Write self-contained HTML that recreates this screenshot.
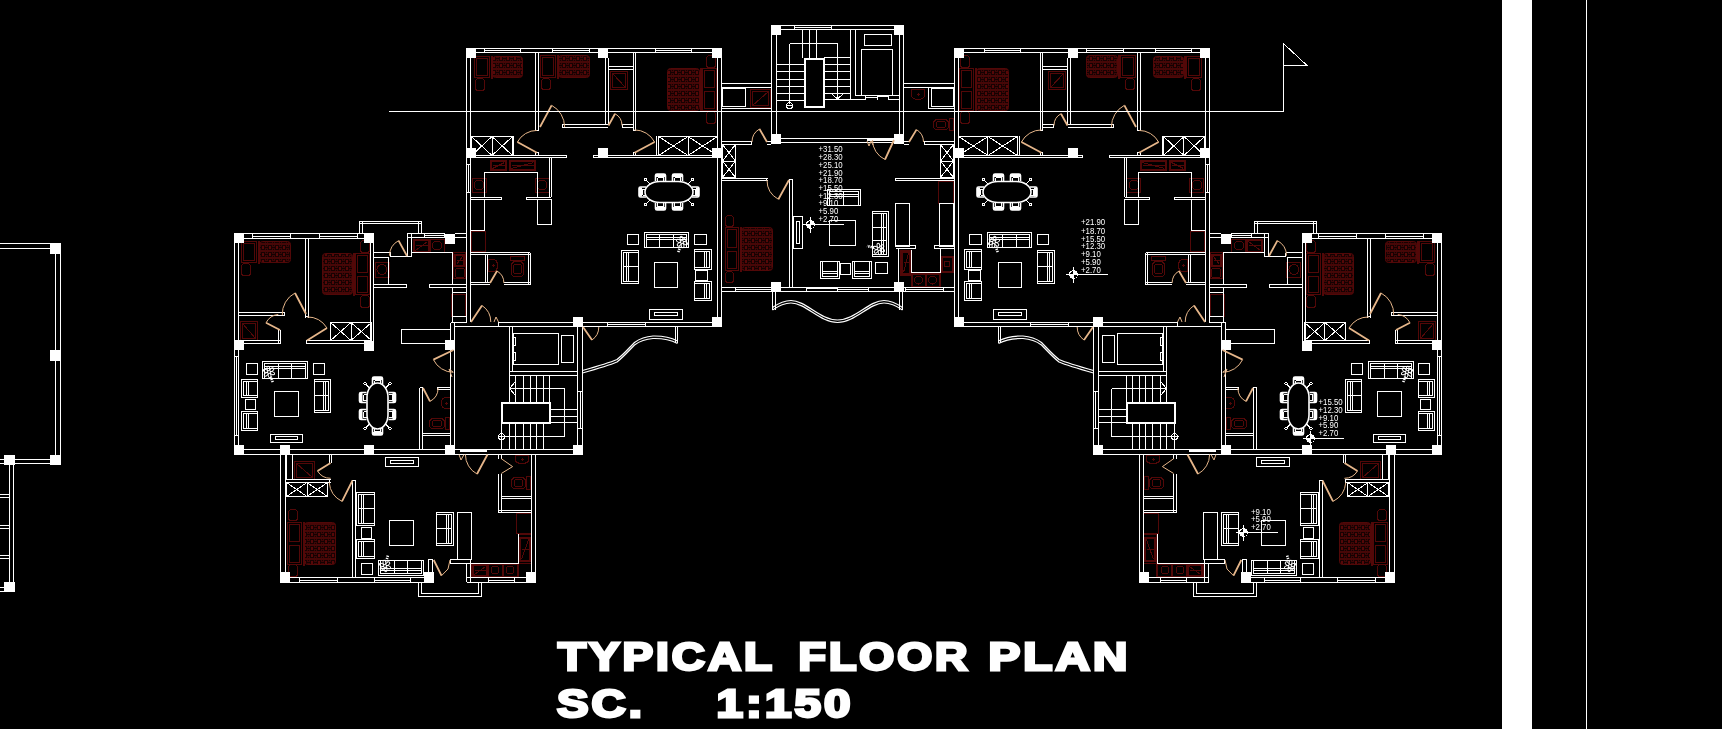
<!DOCTYPE html>
<html lang="en"><head><meta charset="utf-8"><title>Typical Floor Plan</title><style>
html,body{margin:0;padding:0;background:#000;}
body{width:1722px;height:729px;overflow:hidden;}
svg{display:block;will-change:transform;}
.w{fill:none;stroke:#fff;stroke-width:1;shape-rendering:crispEdges;}
.w2{fill:none;stroke:#fff;stroke-width:2;shape-rendering:crispEdges;}
.wc{fill:none;stroke:#fff;stroke-width:1.2;}
.wt{fill:none;stroke:#fff;stroke-width:1.6;}
.wp{fill:none;stroke:#fff;stroke-width:1;}
.ws{fill:none;stroke:#fff;stroke-width:2.6;stroke-dasharray:1.3 1;}
.r{fill:none;stroke:#520808;stroke-width:1;shape-rendering:crispEdges;}
.d{fill:none;stroke:#e6b68a;stroke-width:1;}
.dl{fill:none;stroke:#e6b68a;stroke-width:1.8;}
.lv{font-family:"Liberation Sans",Arial,sans-serif;fill:#fff;}
.tt{font-family:"Liberation Sans",Arial,sans-serif;font-weight:bold;font-size:38.5px;letter-spacing:2.5px;fill:#fff;stroke:#fff;stroke-width:2.8;stroke-linejoin:miter;}
</style></head>
<body>
<svg width="1722" height="729" viewBox="0 0 1722 729">
<defs><pattern id="bp" width="7" height="7" patternUnits="userSpaceOnUse"><rect width="7" height="7" fill="#3e0606"/><rect y="5" width="7" height="2" fill="#470707"/><rect x="2.5" y="0.5" width="3" height="4" fill="#560808" stroke="#180202"/><path d="M0 2.5h2M6 2.5h1M0 0.5h1M0 4.5h1" stroke="#140202" stroke-width="1" fill="none"/></pattern></defs>
<rect width="1722" height="729" fill="#000"/>
<g id="wingL"><rect x="492.5" y="56.5" width="30" height="21" rx="3" fill="url(#bp)" stroke="#520808"/>
<rect x="558.5" y="55.5" width="31" height="22" rx="3" fill="url(#bp)" stroke="#520808"/>
<rect x="667.5" y="68.5" width="32" height="42" rx="3" fill="url(#bp)" stroke="#520808"/>
<rect x="259.5" y="241.5" width="31" height="21" rx="3" fill="url(#bp)" stroke="#520808"/>
<rect x="322.5" y="253.5" width="30" height="41" rx="3" fill="url(#bp)" stroke="#520808"/>
<path class="r" d="M610.5 71.5H627.5V89.5H610.5ZM612.5 73.5H625.5V87.5H612.5ZM612.5 73.5L625.5 87.5M491 55.5L491 78.5M492 55.5L492 78.5M474.5 56.5H489.5V77.5H474.5ZM476.5 58.5H487.5V75.5H476.5ZM478.5 78.5H481.5Q484.5 78.5 484.5 81.5V87.5Q484.5 90.5 481.5 90.5H478.5Q475.5 90.5 475.5 87.5V81.5Q475.5 78.5 478.5 78.5ZM557 54.5L557 78.5M558 54.5L558 78.5M540.5 55.5H555.5V77.5H540.5ZM542.5 57.5H553.5V75.5H542.5ZM544.5 78.5H547.5Q550.5 78.5 550.5 81.5V86.5Q550.5 89.5 547.5 89.5H544.5Q541.5 89.5 541.5 86.5V81.5Q541.5 78.5 544.5 78.5ZM701 67.5L701 111.5M700 67.5L700 111.5M702.5 68.5H716.5V110.5H702.5ZM704.5 70.5H714.5V87.5H704.5ZM704.5 91.5H714.5V108.5H704.5ZM709.5 55.5H712.5Q715.5 55.5 715.5 58.5V64.5Q715.5 67.5 712.5 67.5H709.5Q706.5 67.5 706.5 64.5V58.5Q706.5 55.5 709.5 55.5ZM709.5 111.5H712.5Q715.5 111.5 715.5 114.5V120.5Q715.5 123.5 712.5 123.5H709.5Q706.5 123.5 706.5 120.5V114.5Q706.5 111.5 709.5 111.5ZM490.5 160.5H506.5V170.5H490.5ZM491.5 161.5H505.5V169.5H491.5ZM492.5 168.5L504.5 162.5M492.5 165L504.5 165M509.5 160.5H535.5V170.5H509.5ZM510.5 161.5H534.5V169.5H510.5ZM511.5 168.5L533.5 162.5M511.5 165L533.5 165M472.5 178.5H486.5V192.5H472.5ZM474 185a5 5 0 1 0 10 0a5 5 0 1 0 -10 0M535.5 178.5H549.5V192.5H535.5ZM537 185a5 5 0 1 0 10 0a5 5 0 1 0 -10 0M471.5 231.5H485.5V251.5H471.5ZM485.5 236L485.5 246M488.5 259.5V271.5H493Q497.5 271.5 497.5 265.5Q497.5 259.5 493 259.5ZM491.5 265.5h3M493 264v3M510.5 256.5H524.5V260.5H510.5ZM515.5 261.5H519.5Q523.5 261.5 523.5 265.5V272.5Q523.5 276.5 519.5 276.5H515.5Q511.5 276.5 511.5 272.5V265.5Q511.5 261.5 515.5 261.5ZM515.5 264.5H519.5Q521.5 264.5 521.5 266.5V271.5Q521.5 273.5 519.5 273.5H515.5Q513.5 273.5 513.5 271.5V266.5Q513.5 264.5 515.5 264.5ZM240.5 321.5H257.5V340.5H240.5ZM242.5 323.5H255.5V338.5H242.5ZM242.5 323.5L255.5 338.5M258 240.5L258 263.5M259 240.5L259 263.5M241.5 241.5H256.5V262.5H241.5ZM243.5 243.5H254.5V260.5H243.5ZM244.5 263.5H247.5Q250.5 263.5 250.5 266.5V272.5Q250.5 275.5 247.5 275.5H244.5Q241.5 275.5 241.5 272.5V266.5Q241.5 263.5 244.5 263.5ZM354 252.5L354 295.5M353 252.5L353 295.5M355.5 253.5H369.5V294.5H355.5ZM357.5 255.5H367.5V272.5H357.5ZM357.5 276.5H367.5V292.5H357.5ZM363.5 240.5H366.5Q369.5 240.5 369.5 243.5V249.5Q369.5 252.5 366.5 252.5H363.5Q360.5 252.5 360.5 249.5V243.5Q360.5 240.5 363.5 240.5ZM363.5 295.5H366.5Q369.5 295.5 369.5 298.5V304.5Q369.5 307.5 366.5 307.5H363.5Q360.5 307.5 360.5 304.5V298.5Q360.5 295.5 363.5 295.5ZM375.5 262.5H389.5V277.5H375.5ZM377 269.5a5 5 0 1 0 10 0a5 5 0 1 0 -10 0M413.5 239.5H429.5V252.5H413.5ZM414.5 240.5H428.5V251.5H414.5ZM415.5 250.5L427.5 241.5M415.5 245.5L427.5 245.5M430.5 239.5H444.5V252.5H430.5ZM432.5 245.5a4.5 4.5 0 1 0 9 0a4.5 4.5 0 1 0 -9 0M453.5 252.5H465.5V278.5H453.5ZM454.5 254.5H464.5V266.5H454.5ZM455.5 255.5H463.5V265.5H455.5ZM456.5 264.5L462.5 256.5M456.5 260L462.5 260M457.5 268.5H462.5Q464.5 268.5 464.5 270.5V275.5Q464.5 277.5 462.5 277.5H457.5Q455.5 277.5 455.5 275.5V270.5Q455.5 268.5 457.5 268.5ZM451.5 294.5H465.5V316.5H451.5ZM450.5 397.5V408.5H446Q441.5 408.5 441.5 403Q441.5 397.5 446 397.5ZM444.5 403h3M446 401.5v3M445.5 417.5H449.5V429.5H445.5ZM433.5 418.5H440.5Q444.5 418.5 444.5 422.5V424.5Q444.5 428.5 440.5 428.5H433.5Q429.5 428.5 429.5 424.5V422.5Q429.5 418.5 433.5 418.5ZM434.5 420.5H439.5Q441.5 420.5 441.5 422.5V424.5Q441.5 426.5 439.5 426.5H434.5Q432.5 426.5 432.5 424.5V422.5Q432.5 420.5 434.5 420.5Z"/>
<path class="w" d="M476 48.5L712 48.5M476 52.5L712 52.5M484 50.5L520 50.5M484.5 48.5L484.5 52.5M520.5 48.5L520.5 52.5M552 50.5L589 50.5M552.5 48.5L552.5 52.5M589.5 48.5L589.5 52.5M655 50.5L691 50.5M655.5 48.5L655.5 52.5M691.5 48.5L691.5 52.5M466.5 58L466.5 148M470.5 58L470.5 148M466.5 158L466.5 322M470.5 158L470.5 322M468.5 164L468.5 192M466.5 164.5L470.5 164.5M466.5 192.5L470.5 192.5M717.5 58L717.5 148M721.5 58L721.5 148M717.5 158L717.5 317M721.5 158L721.5 317M535.5 52.5L535.5 131M538.5 52.5L538.5 131M535 130.5L539 130.5M535.5 152.5L535.5 155.5M538.5 152.5L538.5 155.5M535 152.5L539 152.5M605.5 58L605.5 124.5M608.5 58L608.5 124.5M633.5 52.5L633.5 131M635.5 52.5L635.5 131M633 130.5L636 130.5M633.5 152.5L633.5 155.5M635.5 152.5L635.5 155.5M633 152.5L636 152.5M656.5 136L656.5 155.5M513.5 136L513.5 155.5M562 124.5L608 124.5M562 127.5L608 127.5M562.5 124L562.5 128M622 124.5L633 124.5M622 127.5L633 127.5M622.5 124L622.5 128M608 66.5L633 66.5M608 69.5L633 69.5M471.5 136.5H512.5V155.5H471.5ZM471.5 136.5L492 155.5M492 136.5L471.5 155.5M492 136.5L512.5 155.5M512.5 136.5L492 155.5M492.5 136.5L492.5 155.5M658.5 136.5H717.5V155.5H658.5ZM658.5 136.5L688 155.5M688 136.5L658.5 155.5M688 136.5L717.5 155.5M717.5 136.5L688 155.5M688.5 136.5L688.5 155.5M470 155.5L567 155.5M470 157.5L567 157.5M566.5 155L566.5 158M593 155.5L718 155.5M593 157.5L718 157.5M593.5 155L593.5 158M549.5 157.5L549.5 197M551.5 157.5L551.5 197M484.5 198L484.5 172.5L537.5 172.5L537.5 198M470.5 197.5L502 197.5M470.5 199.5L502 199.5M501.5 197L501.5 200M526 197.5L551 197.5M526 199.5L551 199.5M526.5 197L526.5 200M537.5 199.5H551.5V224.5H537.5ZM470.5 199.5H484.5V230.5H470.5ZM470.5 252.5L530 252.5M470.5 254.5L530 254.5M528.5 252.5L528.5 285M530.5 252.5L530.5 285M485.5 254.5L485.5 282M487.5 254.5L487.5 282M470.5 282.5L490 282.5M470.5 284.5L490 284.5M504 282.5L530 282.5M504 284.5L530 284.5M498 322.5L712 322.5M498 326.5L712 326.5M607 324.5L645 324.5M607.5 322.5L607.5 326.5M645.5 322.5L645.5 326.5M498.5 322L498.5 326M657.5 177.5L663.5 177.5M657.5 177.5L657.5 181M663.5 177.5L663.5 181M657.5 206.5L663.5 206.5M657.5 206.5L657.5 203M663.5 206.5L663.5 203M674.5 177.5L680.5 177.5M674.5 177.5L674.5 181M680.5 177.5L680.5 181M674.5 206.5L680.5 206.5M674.5 206.5L674.5 203M680.5 206.5L680.5 203M642.5 189L642.5 195M642.5 189L646 189M642.5 195L646 195M695.5 189L695.5 195M695.5 189L692 189M695.5 195L692 195M650 184L646 180M650 200L646 204M688 184L692 180M688 200L692 204M644.5 232.5H688.5V247.5H644.5ZM646.5 247.5L646.5 234.5L686.5 234.5L686.5 247.5M646.5 237.5L686.5 237.5M646.5 239.5L686.5 239.5M659.5 234.5L659.5 247.5M673.5 234.5L673.5 247.5M627.5 234.5H638.5V244.5H627.5ZM694.5 234.5H706.5V244.5H694.5ZM621.5 250.5H638.5V283.5H621.5ZM638.5 252.5L623.5 252.5L623.5 281.5L638.5 281.5M626.5 252.5L626.5 281.5M628.5 252.5L628.5 281.5M623.5 266.5L638.5 266.5M654.5 262.5H677.5V287.5H654.5ZM694.5 249.5H711.5V269.5H694.5ZM694.5 251.5L709.5 251.5L709.5 267.5L694.5 267.5M706.5 251.5L706.5 267.5M704.5 251.5L704.5 267.5M695.5 270.5H707.5V280.5H695.5ZM694.5 281.5H711.5V300.5H694.5ZM694.5 283.5L709.5 283.5L709.5 298.5L694.5 298.5M706.5 283.5L706.5 298.5M704.5 283.5L704.5 298.5M649.5 309.5H682.5V319.5H649.5ZM654.5 312.5H677.5V315.5H654.5ZM244 233.5L364 233.5M244 238.5L364 238.5M252 236.5L290 236.5M252.5 233.5L252.5 238.5M290.5 233.5L290.5 238.5M319 236.5L357 236.5M319.5 233.5L319.5 238.5M357.5 233.5L357.5 238.5M234.5 243L234.5 340M238.5 243L238.5 340M234.5 350L234.5 445M238.5 350L238.5 445M236.5 356L236.5 435M234.5 356.5L238.5 356.5M234.5 435.5L238.5 435.5M305.5 238.5L305.5 317.5M308.5 238.5L308.5 317.5M305 316.5L309 316.5M370.5 243L370.5 341M373.5 243L373.5 341M238.5 312.5L285 312.5M238.5 315.5L285 315.5M284.5 312L284.5 316M278.5 330L278.5 343.5M280.5 330L280.5 343.5M244 340.5L280.5 340.5M244 343.5L280.5 343.5M306 340.5L364 340.5M306 343.5L364 343.5M306.5 340L306.5 344M330.5 322.5H371.5V340.5H330.5ZM330.5 322.5L351 340.5M351 322.5L330.5 340.5M351 322.5L371.5 340.5M371.5 322.5L351 340.5M351.5 322.5L351.5 340.5M359.5 221L359.5 233M362.5 221L362.5 233M418.5 221L418.5 233.5M421.5 221L421.5 233.5M359.5 221.5L422 221.5M359.5 223.5L422 223.5M407 233.5L445 233.5M407 237.5L445 237.5M455 233.5L467 233.5M455 237.5L467 237.5M424 235.5L444 235.5M424.5 233.5L424.5 237.5M444.5 233.5L444.5 237.5M407.5 233.5L407.5 256.5M411.5 233.5L411.5 256.5M373.5 252.5L390.5 252.5M390 256.5L411.5 256.5M390.5 252.5L390.5 256.5M373.5 257.5H388.5V284.5H373.5ZM373.5 284.5L407 284.5M373.5 287.5L407 287.5M406.5 284L406.5 288M429 284.5L466.5 284.5M429 287.5L466.5 287.5M429.5 284L429.5 288M411.5 252.5L452.5 252.5L452.5 284.5M452.5 287.5L452.5 323M452.5 292.5L466.5 292.5M452.5 316.5L466.5 316.5M450.5 323L450.5 340M454.5 323L454.5 340M450.5 322.5L467 322.5M401.5 329.5H450.5V343.5H401.5ZM450.5 350L450.5 445M454.5 350L454.5 445M244 449.5L445 449.5M244 454.5L445 454.5M262.5 361.5H307.5V378.5H262.5ZM264.5 378.5L264.5 363.5L305.5 363.5L305.5 378.5M264.5 366.5L305.5 366.5M264.5 368.5L305.5 368.5M278.5 363.5L278.5 378.5M291.5 363.5L291.5 378.5M246.5 363.5H257.5V374.5H246.5ZM313.5 363.5H324.5V374.5H313.5ZM241.5 379.5H257.5V397.5H241.5ZM257.5 381.5L243.5 381.5L243.5 395.5L257.5 395.5M246.5 381.5L246.5 395.5M248.5 381.5L248.5 395.5M245.5 399.5H255.5V409.5H245.5ZM241.5 411.5H257.5V430.5H241.5ZM257.5 413.5L243.5 413.5L243.5 428.5L257.5 428.5M246.5 413.5L246.5 428.5M248.5 413.5L248.5 428.5M274.5 391.5H298.5V416.5H274.5ZM314.5 379.5H330.5V412.5H314.5ZM314.5 381.5L328.5 381.5L328.5 410.5L314.5 410.5M325.5 381.5L325.5 410.5M323.5 381.5L323.5 410.5M328.5 395.5L314.5 395.5M270.5 434.5H302.5V442.5H270.5ZM275.5 436.5H297.5V439.5H275.5ZM363.5 394.5L363.5 400.5M363.5 394.5L366.5 394.5M363.5 400.5L366.5 400.5M392.5 394.5L392.5 400.5M392.5 394.5L388.5 394.5M392.5 400.5L388.5 400.5M363.5 411.5L363.5 417.5M363.5 411.5L366.5 411.5M363.5 417.5L366.5 417.5M392.5 411.5L392.5 417.5M392.5 411.5L388.5 411.5M392.5 417.5L388.5 417.5M374.5 380.5L380.5 380.5M374.5 380.5L374.5 384M380.5 380.5L380.5 384M374.5 431.5L380.5 431.5M374.5 431.5L374.5 428M380.5 431.5L380.5 428M369.5 388L365.5 384M369.5 424L365.5 428M385.5 388L389.5 384M385.5 424L389.5 428M419.5 387.5L419.5 449M422.5 387.5L422.5 449M419.5 387.5L423 387.5M437.5 387.5L450.5 387.5M437.5 389.5L450.5 389.5M437.5 387L437.5 390M422.5 433.5L450.5 433.5M422.5 435.5L450.5 435.5M454.5 372L454.5 377M454.5 326.5L509 326.5M509.5 326.5L509.5 371M512.5 326.5L512.5 371M509 371.5L577.5 371.5M513.5 333.5H558.5V364.5H513.5ZM561.5 335.5H573.5V362.5H561.5ZM512.5 337.5L515.5 337.5L515.5 345.5L513.5 345.5L513.5 352.5L515.5 352.5L515.5 360.5L512.5 360.5M577.5 327L577.5 445M582.5 327L582.5 445M580.5 391L580.5 428M577.5 391.5L582.5 391.5M577.5 428.5L582.5 428.5M509 375.5L577.5 375.5M509.5 371L509.5 402M515.5 375.5L515.5 402M523.5 375.5L523.5 402M530.5 375.5L530.5 402M536.5 375.5L536.5 402M543.5 375.5L543.5 402M549.5 375.5L549.5 402M501.5 423L501.5 449M509.5 423L509.5 449M515.5 423L515.5 449M523.5 423L523.5 449M530.5 423L530.5 449M536.5 423L536.5 449M543.5 423L543.5 449M497.5 436.5L564.5 436.5M564.5 388.5L564.5 436.5M509 388.5L564.5 388.5M549.5 409.5L577.5 409.5M549.5 416.5L577.5 416.5M549.5 422.5L577.5 422.5M515 382L509.5 388.5L515 395M455 449.5L573 449.5M455 454.5L573 454.5M675.5 326.5L675.5 342.5M677.5 326.5L677.5 342.5"/>
<path class="w2" d="M501.5 402.5H549.5V422.5H501.5ZM460 450.5L487 450.5"/>
<rect class="wt" x="645" y="181.5" width="48" height="21" rx="14.9" ry="10.5"/>
<path class="wt" d="M655.5 181V175.5Q655.5 174 657 174H664Q665.5 174 665.5 175.5V181"/>
<rect fill="#fff" x="656" y="174" width="9" height="3"/>
<path class="wt" d="M655.5 203V208.5Q655.5 210 657 210H664Q665.5 210 665.5 208.5V203"/>
<rect fill="#fff" x="656" y="207" width="9" height="3"/>
<path class="wt" d="M672.5 181V175.5Q672.5 174 674 174H681Q682.5 174 682.5 175.5V181"/>
<rect fill="#fff" x="673" y="174" width="9" height="3"/>
<path class="wt" d="M672.5 203V208.5Q672.5 210 674 210H681Q682.5 210 682.5 208.5V203"/>
<rect fill="#fff" x="673" y="207" width="9" height="3"/>
<path class="wt" d="M646 187H640.5Q639 187 639 188.5V195.5Q639 197 640.5 197H646"/>
<rect fill="#fff" x="639" y="187.5" width="3" height="9"/>
<path class="wt" d="M692 187H697.5Q699 187 699 188.5V195.5Q699 197 697.5 197H692"/>
<rect fill="#fff" x="696" y="187.5" width="3" height="9"/>
<circle class="w" cx="645.5" cy="179.5" r="1.2"/>
<circle class="w" cx="645.5" cy="204.5" r="1.2"/>
<circle class="w" cx="692.5" cy="179.5" r="1.2"/>
<circle class="w" cx="692.5" cy="204.5" r="1.2"/>
<g class="wp"><ellipse cx="685.4" cy="243.2" rx="2.3" ry="1.4" transform="rotate(20 685.4 243.2)"/><ellipse cx="682.6" cy="245.5" rx="2.3" ry="1.4" transform="rotate(80 682.6 245.5)"/><ellipse cx="679.2" cy="244.3" rx="2.3" ry="1.4" transform="rotate(140 679.2 244.3)"/><ellipse cx="678.6" cy="240.8" rx="2.3" ry="1.4" transform="rotate(200 678.6 240.8)"/><ellipse cx="681.4" cy="238.5" rx="2.3" ry="1.4" transform="rotate(260 681.4 238.5)"/><ellipse cx="684.8" cy="239.7" rx="2.3" ry="1.4" transform="rotate(320 684.8 239.7)"/></g>
<path class="ws" d="M680.3 246.6L678 253"/>
<g class="wp"><ellipse cx="272.4" cy="373.2" rx="2.3" ry="1.4" transform="rotate(20 272.4 373.2)"/><ellipse cx="269.6" cy="375.5" rx="2.3" ry="1.4" transform="rotate(80 269.6 375.5)"/><ellipse cx="266.2" cy="374.3" rx="2.3" ry="1.4" transform="rotate(140 266.2 374.3)"/><ellipse cx="265.6" cy="370.8" rx="2.3" ry="1.4" transform="rotate(200 265.6 370.8)"/><ellipse cx="268.4" cy="368.5" rx="2.3" ry="1.4" transform="rotate(260 268.4 368.5)"/><ellipse cx="271.8" cy="369.7" rx="2.3" ry="1.4" transform="rotate(320 271.8 369.7)"/></g>
<path class="ws" d="M270.7 376.6L273 383"/>
<rect class="wt" x="367" y="383" width="21" height="46" rx="10.5" ry="14.3"/>
<path class="wt" d="M366.5 392.5H361Q359.5 392.5 359.5 394V401Q359.5 402.5 361 402.5H366.5"/>
<rect fill="#fff" x="359.5" y="393" width="3" height="9"/>
<path class="wt" d="M388.5 392.5H394Q395.5 392.5 395.5 394V401Q395.5 402.5 394 402.5H388.5"/>
<rect fill="#fff" x="392.5" y="393" width="3" height="9"/>
<path class="wt" d="M366.5 409.5H361Q359.5 409.5 359.5 411V418Q359.5 419.5 361 419.5H366.5"/>
<rect fill="#fff" x="359.5" y="410" width="3" height="9"/>
<path class="wt" d="M388.5 409.5H394Q395.5 409.5 395.5 411V418Q395.5 419.5 394 419.5H388.5"/>
<rect fill="#fff" x="392.5" y="410" width="3" height="9"/>
<path class="wt" d="M372.5 384V378.5Q372.5 377 374 377H381Q382.5 377 382.5 378.5V384"/>
<rect fill="#fff" x="373" y="377" width="9" height="3"/>
<path class="wt" d="M372.5 428V433.5Q372.5 435 374 435H381Q382.5 435 382.5 433.5V428"/>
<rect fill="#fff" x="373" y="432" width="9" height="3"/>
<circle class="w" cx="365" cy="383.5" r="1.2"/>
<circle class="w" cx="365" cy="428.5" r="1.2"/>
<circle class="w" cx="390" cy="383.5" r="1.2"/>
<circle class="w" cx="390" cy="428.5" r="1.2"/>
<circle class="w" cx="501.5" cy="436.5" r="3"/>
<path class="wc" d="M582.5 370.5C595 367 610 362.5 617 359.5C624 354 629 348 634.5 342.5C640 338.5 646 336.5 653 336C662 335.8 671 337.5 677.5 341"/>
<path class="wc" d="M582.5 373.0C595 369.5 610 365.0 617 362.0C624 356.5 629 350.5 634.5 345.0C640 341.0 646 339.0 653 338.5C662 338.3 671 340.0 677.5 343.5"/>
<rect x="466" y="48" width="10" height="10" fill="#fff"/>
<rect x="598" y="48" width="10" height="10" fill="#fff"/>
<rect x="712" y="48" width="10" height="10" fill="#fff"/>
<rect x="466" y="148" width="10" height="10" fill="#fff"/>
<rect x="712" y="148" width="10" height="10" fill="#fff"/>
<rect x="573" y="317" width="10" height="10" fill="#fff"/>
<rect x="712" y="317" width="10" height="10" fill="#fff"/>
<rect x="598" y="148" width="10" height="10" fill="#fff"/>
<rect x="234" y="233" width="10" height="10" fill="#fff"/>
<rect x="364" y="233" width="10" height="10" fill="#fff"/>
<rect x="445" y="234" width="10" height="10" fill="#fff"/>
<rect x="234" y="340" width="10" height="10" fill="#fff"/>
<rect x="364" y="341" width="10" height="10" fill="#fff"/>
<rect x="445" y="340" width="10" height="10" fill="#fff"/>
<rect x="234" y="445" width="10" height="10" fill="#fff"/>
<rect x="280" y="445" width="10" height="10" fill="#fff"/>
<rect x="364" y="445" width="10" height="10" fill="#fff"/>
<rect x="445" y="445" width="10" height="10" fill="#fff"/>
<rect x="573" y="445" width="10" height="10" fill="#fff"/>
<path class="d" d="M551.6 105.3A24.6 24.6 0 0 1 564.6 127M517.4 142A22.3 22.3 0 0 1 537 130.4M615 113.7A13.5 13.5 0 0 1 622 125.5M654.6 142A22.8 22.8 0 0 0 634.5 129.9M497 271A13.9 13.9 0 0 1 503.9 283M482 305.5A19.8 19.8 0 0 1 490.8 322M494 322L496 317L498.5 322M295 293A23.7 23.7 0 0 0 282.3 315.1M327 328A23.6 23.6 0 0 0 307 316.9M266 322.8A15.7 15.7 0 0 1 278.3 314.4M398.6 240.6A17.5 17.5 0 0 0 389.5 255.7M430 401.4A15.1 15.1 0 0 0 438.1 388M433.4 359.6A22.3 22.3 0 0 0 453.4 372.3M453 372L449 369L452 377M592 340A15.8 15.8 0 0 0 598.8 327"/>
<path class="dl" d="M540 127L551.6 105.3M537 152.7L517.4 142M608.5 125.5L615 113.7M634.5 152.7L654.6 142M490 283L497 271M471 322L482 305.5M306 314L295 293M307 340.5L327 328M280 330L266 322.8M407 256L398.6 240.6M423 388L430 401.4M453.5 350L433.4 359.6M583 327L592 340"/><rect x="304.5" y="522.5" width="31" height="42" rx="3" fill="url(#bp)" stroke="#520808"/>
<path class="r" d="M294.5 461.5H314.5V479.5H294.5ZM296.5 463.5H312.5V477.5H296.5ZM296.5 463.5L312.5 477.5M515.5 455.5H528.5V459.5Q528.5 463.5 522 463.5Q515.5 463.5 515.5 459.5ZM520.5 459.5h3M522 458v3M526.5 476.5H530.5V489.5H526.5ZM515.5 477.5H521.5Q525.5 477.5 525.5 481.5V484.5Q525.5 488.5 521.5 488.5H515.5Q511.5 488.5 511.5 484.5V481.5Q511.5 477.5 515.5 477.5ZM516.5 479.5H520.5Q522.5 479.5 522.5 481.5V484.5Q522.5 486.5 520.5 486.5H516.5Q514.5 486.5 514.5 484.5V481.5Q514.5 479.5 516.5 479.5ZM516.5 513.5H531.5V533.5H516.5ZM516.5 520L516.5 528M518.5 534.5H531.5V563.5H518.5ZM519.5 537.5H530.5V561.5H519.5ZM520.5 538.5H529.5V560.5H520.5ZM521.5 559.5L528.5 539.5M521.5 549L528.5 549M471.5 563.5H518.5V577.5H471.5ZM472.5 564.5H487.5V576.5H472.5ZM473.5 565.5H486.5V575.5H473.5ZM474.5 574.5L485.5 566.5M474.5 570L485.5 570M488.5 564.5H502.5V576.5H488.5ZM491 570a4 4 0 1 0 8 0a4 4 0 1 0 -8 0M503.5 564.5H517.5V576.5H503.5ZM506 570a4 4 0 1 0 8 0a4 4 0 1 0 -8 0M303 521.5L303 565.5M304 521.5L304 565.5M287.5 522.5H301.5V564.5H287.5ZM289.5 524.5H299.5V541.5H289.5ZM289.5 545.5H299.5V562.5H289.5ZM291.5 509.5H294.5Q297.5 509.5 297.5 512.5V517.5Q297.5 520.5 294.5 520.5H291.5Q288.5 520.5 288.5 517.5V512.5Q288.5 509.5 291.5 509.5ZM291.5 564.5H294.5Q297.5 564.5 297.5 567.5V573.5Q297.5 576.5 294.5 576.5H291.5Q288.5 576.5 288.5 573.5V567.5Q288.5 564.5 291.5 564.5Z"/>
<path class="w" d="M280.5 455L280.5 572M285.5 455L285.5 572M531.5 455L531.5 572M535.5 455L535.5 572M290 577.5L424 577.5M290 582.5L424 582.5M299 580.5L337 580.5M299.5 577.5L299.5 582.5M337.5 577.5L337.5 582.5M374 580.5L410 580.5M374.5 577.5L374.5 582.5M410.5 577.5L410.5 582.5M466.5 577.5L526 577.5M466.5 582.5L526 582.5M488 580.5L514 580.5M488.5 577.5L488.5 582.5M514.5 577.5L514.5 582.5M418.5 582.5L418.5 596.5L481.5 596.5L481.5 582.5M421.5 582.5L421.5 593.5L478.5 593.5L478.5 582.5M450 559.5L471 559.5M450 563.5L471 563.5M466.5 563L466.5 582M470.5 559L470.5 582M450.5 559L450.5 563M428.5 559L428.5 572M432.5 559L432.5 572M428 559.5L433 559.5M457.5 512.5H471.5V559.5H457.5ZM286.5 454.5H292.5V479.5H286.5ZM329.5 454.5L329.5 463M331.5 454.5L331.5 463M285.5 479.5L330.5 479.5M285.5 482.5L330.5 482.5M329.5 479L329.5 483M286.5 482.5H327.5V496.5H286.5ZM286.5 482.5L307 496.5M307 482.5L286.5 496.5M307 482.5L327.5 496.5M327.5 482.5L307 496.5M307.5 482.5L307.5 496.5M352.5 480L352.5 577.5M355.5 480L355.5 577.5M352 480.5L356 480.5M385.5 457.5H418.5V466.5H385.5ZM390.5 460.5H413.5V463.5H390.5ZM498.5 454.5L498.5 459M501.5 454.5L501.5 459M498.5 473.5L498.5 512.5M501.5 473.5L501.5 512.5M501.5 496.5L531.5 496.5M501.5 498.5L531.5 498.5M498.5 510.5L531.5 510.5M498.5 512.5L531.5 512.5M518 534L518 563L471 563M356.5 492.5H374.5V525.5H356.5ZM374.5 494.5L358.5 494.5L358.5 523.5L374.5 523.5M361.5 494.5L361.5 523.5M363.5 494.5L363.5 523.5M358.5 508.5L374.5 508.5M361.5 527.5H371.5V538.5H361.5ZM356.5 539.5H374.5V558.5H356.5ZM374.5 541.5L358.5 541.5L358.5 556.5L374.5 556.5M361.5 541.5L361.5 556.5M363.5 541.5L363.5 556.5M361.5 563.5H372.5V574.5H361.5ZM378.5 560.5H423.5V575.5H378.5ZM380.5 560.5L380.5 573.5L421.5 573.5L421.5 560.5M380.5 570.5L421.5 570.5M380.5 568.5L421.5 568.5M394.5 573.5L394.5 560.5M407.5 573.5L407.5 560.5M389.5 520.5H413.5V545.5H389.5ZM436.5 512.5H453.5V545.5H436.5ZM436.5 514.5L451.5 514.5L451.5 543.5L436.5 543.5M448.5 514.5L448.5 543.5M446.5 514.5L446.5 543.5M451.5 528.5L436.5 528.5"/>
<g class="wp"><ellipse cx="388.4" cy="567.2" rx="2.3" ry="1.4" transform="rotate(20 388.4 567.2)"/><ellipse cx="385.6" cy="569.5" rx="2.3" ry="1.4" transform="rotate(80 385.6 569.5)"/><ellipse cx="382.2" cy="568.3" rx="2.3" ry="1.4" transform="rotate(140 382.2 568.3)"/><ellipse cx="381.6" cy="564.8" rx="2.3" ry="1.4" transform="rotate(200 381.6 564.8)"/><ellipse cx="384.4" cy="562.5" rx="2.3" ry="1.4" transform="rotate(260 384.4 562.5)"/><ellipse cx="387.8" cy="563.7" rx="2.3" ry="1.4" transform="rotate(320 387.8 563.7)"/></g>
<path class="ws" d="M386.3 561.4L388 555"/>
<rect x="280" y="572" width="10" height="11" fill="#fff"/>
<rect x="424" y="572" width="10" height="11" fill="#fff"/>
<rect x="526" y="572" width="10" height="11" fill="#fff"/>
<path class="d" d="M441.5 575.7L448 569L450 560M317.5 471A15.3 15.3 0 0 0 330.6 478.3M342 501.4A23.4 23.4 0 0 1 329.2 482.4M477 474A22.1 22.1 0 0 1 465.4 454.5M464 454.5L461 460L459 454.5M501.3 458.7L512.6 466.6L501.3 473.5"/>
<path class="dl" d="M433.7 560L441.5 575.7M330.5 463L317.5 471M352.5 480.5L342 501.4M487.5 454.5L477 474"/></g>
<g id="wingR" transform="translate(1676 0) scale(-1 1)"><rect x="492.5" y="56.5" width="30" height="21" rx="3" fill="url(#bp)" stroke="#520808"/>
<rect x="558.5" y="55.5" width="31" height="22" rx="3" fill="url(#bp)" stroke="#520808"/>
<rect x="667.5" y="68.5" width="32" height="42" rx="3" fill="url(#bp)" stroke="#520808"/>
<rect x="259.5" y="241.5" width="31" height="21" rx="3" fill="url(#bp)" stroke="#520808"/>
<rect x="322.5" y="253.5" width="30" height="41" rx="3" fill="url(#bp)" stroke="#520808"/>
<path class="r" d="M610.5 71.5H627.5V89.5H610.5ZM612.5 73.5H625.5V87.5H612.5ZM612.5 73.5L625.5 87.5M491 55.5L491 78.5M492 55.5L492 78.5M474.5 56.5H489.5V77.5H474.5ZM476.5 58.5H487.5V75.5H476.5ZM478.5 78.5H481.5Q484.5 78.5 484.5 81.5V87.5Q484.5 90.5 481.5 90.5H478.5Q475.5 90.5 475.5 87.5V81.5Q475.5 78.5 478.5 78.5ZM557 54.5L557 78.5M558 54.5L558 78.5M540.5 55.5H555.5V77.5H540.5ZM542.5 57.5H553.5V75.5H542.5ZM544.5 78.5H547.5Q550.5 78.5 550.5 81.5V86.5Q550.5 89.5 547.5 89.5H544.5Q541.5 89.5 541.5 86.5V81.5Q541.5 78.5 544.5 78.5ZM701 67.5L701 111.5M700 67.5L700 111.5M702.5 68.5H716.5V110.5H702.5ZM704.5 70.5H714.5V87.5H704.5ZM704.5 91.5H714.5V108.5H704.5ZM709.5 55.5H712.5Q715.5 55.5 715.5 58.5V64.5Q715.5 67.5 712.5 67.5H709.5Q706.5 67.5 706.5 64.5V58.5Q706.5 55.5 709.5 55.5ZM709.5 111.5H712.5Q715.5 111.5 715.5 114.5V120.5Q715.5 123.5 712.5 123.5H709.5Q706.5 123.5 706.5 120.5V114.5Q706.5 111.5 709.5 111.5ZM490.5 160.5H506.5V170.5H490.5ZM491.5 161.5H505.5V169.5H491.5ZM492.5 168.5L504.5 162.5M492.5 165L504.5 165M509.5 160.5H535.5V170.5H509.5ZM510.5 161.5H534.5V169.5H510.5ZM511.5 168.5L533.5 162.5M511.5 165L533.5 165M472.5 178.5H486.5V192.5H472.5ZM474 185a5 5 0 1 0 10 0a5 5 0 1 0 -10 0M535.5 178.5H549.5V192.5H535.5ZM537 185a5 5 0 1 0 10 0a5 5 0 1 0 -10 0M471.5 231.5H485.5V251.5H471.5ZM485.5 236L485.5 246M488.5 259.5V271.5H493Q497.5 271.5 497.5 265.5Q497.5 259.5 493 259.5ZM491.5 265.5h3M493 264v3M510.5 256.5H524.5V260.5H510.5ZM515.5 261.5H519.5Q523.5 261.5 523.5 265.5V272.5Q523.5 276.5 519.5 276.5H515.5Q511.5 276.5 511.5 272.5V265.5Q511.5 261.5 515.5 261.5ZM515.5 264.5H519.5Q521.5 264.5 521.5 266.5V271.5Q521.5 273.5 519.5 273.5H515.5Q513.5 273.5 513.5 271.5V266.5Q513.5 264.5 515.5 264.5ZM240.5 321.5H257.5V340.5H240.5ZM242.5 323.5H255.5V338.5H242.5ZM242.5 323.5L255.5 338.5M258 240.5L258 263.5M259 240.5L259 263.5M241.5 241.5H256.5V262.5H241.5ZM243.5 243.5H254.5V260.5H243.5ZM244.5 263.5H247.5Q250.5 263.5 250.5 266.5V272.5Q250.5 275.5 247.5 275.5H244.5Q241.5 275.5 241.5 272.5V266.5Q241.5 263.5 244.5 263.5ZM354 252.5L354 295.5M353 252.5L353 295.5M355.5 253.5H369.5V294.5H355.5ZM357.5 255.5H367.5V272.5H357.5ZM357.5 276.5H367.5V292.5H357.5ZM363.5 240.5H366.5Q369.5 240.5 369.5 243.5V249.5Q369.5 252.5 366.5 252.5H363.5Q360.5 252.5 360.5 249.5V243.5Q360.5 240.5 363.5 240.5ZM363.5 295.5H366.5Q369.5 295.5 369.5 298.5V304.5Q369.5 307.5 366.5 307.5H363.5Q360.5 307.5 360.5 304.5V298.5Q360.5 295.5 363.5 295.5ZM375.5 262.5H389.5V277.5H375.5ZM377 269.5a5 5 0 1 0 10 0a5 5 0 1 0 -10 0M413.5 239.5H429.5V252.5H413.5ZM414.5 240.5H428.5V251.5H414.5ZM415.5 250.5L427.5 241.5M415.5 245.5L427.5 245.5M430.5 239.5H444.5V252.5H430.5ZM432.5 245.5a4.5 4.5 0 1 0 9 0a4.5 4.5 0 1 0 -9 0M453.5 252.5H465.5V278.5H453.5ZM454.5 254.5H464.5V266.5H454.5ZM455.5 255.5H463.5V265.5H455.5ZM456.5 264.5L462.5 256.5M456.5 260L462.5 260M457.5 268.5H462.5Q464.5 268.5 464.5 270.5V275.5Q464.5 277.5 462.5 277.5H457.5Q455.5 277.5 455.5 275.5V270.5Q455.5 268.5 457.5 268.5ZM451.5 294.5H465.5V316.5H451.5ZM450.5 397.5V408.5H446Q441.5 408.5 441.5 403Q441.5 397.5 446 397.5ZM444.5 403h3M446 401.5v3M445.5 417.5H449.5V429.5H445.5ZM433.5 418.5H440.5Q444.5 418.5 444.5 422.5V424.5Q444.5 428.5 440.5 428.5H433.5Q429.5 428.5 429.5 424.5V422.5Q429.5 418.5 433.5 418.5ZM434.5 420.5H439.5Q441.5 420.5 441.5 422.5V424.5Q441.5 426.5 439.5 426.5H434.5Q432.5 426.5 432.5 424.5V422.5Q432.5 420.5 434.5 420.5Z"/>
<path class="w" d="M476 48.5L712 48.5M476 52.5L712 52.5M484 50.5L520 50.5M484.5 48.5L484.5 52.5M520.5 48.5L520.5 52.5M552 50.5L589 50.5M552.5 48.5L552.5 52.5M589.5 48.5L589.5 52.5M655 50.5L691 50.5M655.5 48.5L655.5 52.5M691.5 48.5L691.5 52.5M466.5 58L466.5 148M470.5 58L470.5 148M466.5 158L466.5 322M470.5 158L470.5 322M468.5 164L468.5 192M466.5 164.5L470.5 164.5M466.5 192.5L470.5 192.5M717.5 58L717.5 148M721.5 58L721.5 148M717.5 158L717.5 317M721.5 158L721.5 317M535.5 52.5L535.5 131M538.5 52.5L538.5 131M535 130.5L539 130.5M535.5 152.5L535.5 155.5M538.5 152.5L538.5 155.5M535 152.5L539 152.5M605.5 58L605.5 124.5M608.5 58L608.5 124.5M633.5 52.5L633.5 131M635.5 52.5L635.5 131M633 130.5L636 130.5M633.5 152.5L633.5 155.5M635.5 152.5L635.5 155.5M633 152.5L636 152.5M656.5 136L656.5 155.5M513.5 136L513.5 155.5M562 124.5L608 124.5M562 127.5L608 127.5M562.5 124L562.5 128M622 124.5L633 124.5M622 127.5L633 127.5M622.5 124L622.5 128M608 66.5L633 66.5M608 69.5L633 69.5M471.5 136.5H512.5V155.5H471.5ZM471.5 136.5L492 155.5M492 136.5L471.5 155.5M492 136.5L512.5 155.5M512.5 136.5L492 155.5M492.5 136.5L492.5 155.5M658.5 136.5H717.5V155.5H658.5ZM658.5 136.5L688 155.5M688 136.5L658.5 155.5M688 136.5L717.5 155.5M717.5 136.5L688 155.5M688.5 136.5L688.5 155.5M470 155.5L567 155.5M470 157.5L567 157.5M566.5 155L566.5 158M593 155.5L718 155.5M593 157.5L718 157.5M593.5 155L593.5 158M549.5 157.5L549.5 197M551.5 157.5L551.5 197M484.5 198L484.5 172.5L537.5 172.5L537.5 198M470.5 197.5L502 197.5M470.5 199.5L502 199.5M501.5 197L501.5 200M526 197.5L551 197.5M526 199.5L551 199.5M526.5 197L526.5 200M537.5 199.5H551.5V224.5H537.5ZM470.5 199.5H484.5V230.5H470.5ZM470.5 252.5L530 252.5M470.5 254.5L530 254.5M528.5 252.5L528.5 285M530.5 252.5L530.5 285M485.5 254.5L485.5 282M487.5 254.5L487.5 282M470.5 282.5L490 282.5M470.5 284.5L490 284.5M504 282.5L530 282.5M504 284.5L530 284.5M498 322.5L712 322.5M498 326.5L712 326.5M607 324.5L645 324.5M607.5 322.5L607.5 326.5M645.5 322.5L645.5 326.5M498.5 322L498.5 326M657.5 177.5L663.5 177.5M657.5 177.5L657.5 181M663.5 177.5L663.5 181M657.5 206.5L663.5 206.5M657.5 206.5L657.5 203M663.5 206.5L663.5 203M674.5 177.5L680.5 177.5M674.5 177.5L674.5 181M680.5 177.5L680.5 181M674.5 206.5L680.5 206.5M674.5 206.5L674.5 203M680.5 206.5L680.5 203M642.5 189L642.5 195M642.5 189L646 189M642.5 195L646 195M695.5 189L695.5 195M695.5 189L692 189M695.5 195L692 195M650 184L646 180M650 200L646 204M688 184L692 180M688 200L692 204M644.5 232.5H688.5V247.5H644.5ZM646.5 247.5L646.5 234.5L686.5 234.5L686.5 247.5M646.5 237.5L686.5 237.5M646.5 239.5L686.5 239.5M659.5 234.5L659.5 247.5M673.5 234.5L673.5 247.5M627.5 234.5H638.5V244.5H627.5ZM694.5 234.5H706.5V244.5H694.5ZM621.5 250.5H638.5V283.5H621.5ZM638.5 252.5L623.5 252.5L623.5 281.5L638.5 281.5M626.5 252.5L626.5 281.5M628.5 252.5L628.5 281.5M623.5 266.5L638.5 266.5M654.5 262.5H677.5V287.5H654.5ZM694.5 249.5H711.5V269.5H694.5ZM694.5 251.5L709.5 251.5L709.5 267.5L694.5 267.5M706.5 251.5L706.5 267.5M704.5 251.5L704.5 267.5M695.5 270.5H707.5V280.5H695.5ZM694.5 281.5H711.5V300.5H694.5ZM694.5 283.5L709.5 283.5L709.5 298.5L694.5 298.5M706.5 283.5L706.5 298.5M704.5 283.5L704.5 298.5M649.5 309.5H682.5V319.5H649.5ZM654.5 312.5H677.5V315.5H654.5ZM244 233.5L364 233.5M244 238.5L364 238.5M252 236.5L290 236.5M252.5 233.5L252.5 238.5M290.5 233.5L290.5 238.5M319 236.5L357 236.5M319.5 233.5L319.5 238.5M357.5 233.5L357.5 238.5M234.5 243L234.5 340M238.5 243L238.5 340M234.5 350L234.5 445M238.5 350L238.5 445M236.5 356L236.5 435M234.5 356.5L238.5 356.5M234.5 435.5L238.5 435.5M305.5 238.5L305.5 317.5M308.5 238.5L308.5 317.5M305 316.5L309 316.5M370.5 243L370.5 341M373.5 243L373.5 341M238.5 312.5L285 312.5M238.5 315.5L285 315.5M284.5 312L284.5 316M278.5 330L278.5 343.5M280.5 330L280.5 343.5M244 340.5L280.5 340.5M244 343.5L280.5 343.5M306 340.5L364 340.5M306 343.5L364 343.5M306.5 340L306.5 344M330.5 322.5H371.5V340.5H330.5ZM330.5 322.5L351 340.5M351 322.5L330.5 340.5M351 322.5L371.5 340.5M371.5 322.5L351 340.5M351.5 322.5L351.5 340.5M359.5 221L359.5 233M362.5 221L362.5 233M418.5 221L418.5 233.5M421.5 221L421.5 233.5M359.5 221.5L422 221.5M359.5 223.5L422 223.5M407 233.5L445 233.5M407 237.5L445 237.5M455 233.5L467 233.5M455 237.5L467 237.5M424 235.5L444 235.5M424.5 233.5L424.5 237.5M444.5 233.5L444.5 237.5M407.5 233.5L407.5 256.5M411.5 233.5L411.5 256.5M373.5 252.5L390.5 252.5M390 256.5L411.5 256.5M390.5 252.5L390.5 256.5M373.5 257.5H388.5V284.5H373.5ZM373.5 284.5L407 284.5M373.5 287.5L407 287.5M406.5 284L406.5 288M429 284.5L466.5 284.5M429 287.5L466.5 287.5M429.5 284L429.5 288M411.5 252.5L452.5 252.5L452.5 284.5M452.5 287.5L452.5 323M452.5 292.5L466.5 292.5M452.5 316.5L466.5 316.5M450.5 323L450.5 340M454.5 323L454.5 340M450.5 322.5L467 322.5M401.5 329.5H450.5V343.5H401.5ZM450.5 350L450.5 445M454.5 350L454.5 445M244 449.5L445 449.5M244 454.5L445 454.5M262.5 361.5H307.5V378.5H262.5ZM264.5 378.5L264.5 363.5L305.5 363.5L305.5 378.5M264.5 366.5L305.5 366.5M264.5 368.5L305.5 368.5M278.5 363.5L278.5 378.5M291.5 363.5L291.5 378.5M246.5 363.5H257.5V374.5H246.5ZM313.5 363.5H324.5V374.5H313.5ZM241.5 379.5H257.5V397.5H241.5ZM257.5 381.5L243.5 381.5L243.5 395.5L257.5 395.5M246.5 381.5L246.5 395.5M248.5 381.5L248.5 395.5M245.5 399.5H255.5V409.5H245.5ZM241.5 411.5H257.5V430.5H241.5ZM257.5 413.5L243.5 413.5L243.5 428.5L257.5 428.5M246.5 413.5L246.5 428.5M248.5 413.5L248.5 428.5M274.5 391.5H298.5V416.5H274.5ZM314.5 379.5H330.5V412.5H314.5ZM314.5 381.5L328.5 381.5L328.5 410.5L314.5 410.5M325.5 381.5L325.5 410.5M323.5 381.5L323.5 410.5M328.5 395.5L314.5 395.5M270.5 434.5H302.5V442.5H270.5ZM275.5 436.5H297.5V439.5H275.5ZM363.5 394.5L363.5 400.5M363.5 394.5L366.5 394.5M363.5 400.5L366.5 400.5M392.5 394.5L392.5 400.5M392.5 394.5L388.5 394.5M392.5 400.5L388.5 400.5M363.5 411.5L363.5 417.5M363.5 411.5L366.5 411.5M363.5 417.5L366.5 417.5M392.5 411.5L392.5 417.5M392.5 411.5L388.5 411.5M392.5 417.5L388.5 417.5M374.5 380.5L380.5 380.5M374.5 380.5L374.5 384M380.5 380.5L380.5 384M374.5 431.5L380.5 431.5M374.5 431.5L374.5 428M380.5 431.5L380.5 428M369.5 388L365.5 384M369.5 424L365.5 428M385.5 388L389.5 384M385.5 424L389.5 428M419.5 387.5L419.5 449M422.5 387.5L422.5 449M419.5 387.5L423 387.5M437.5 387.5L450.5 387.5M437.5 389.5L450.5 389.5M437.5 387L437.5 390M422.5 433.5L450.5 433.5M422.5 435.5L450.5 435.5M454.5 372L454.5 377M454.5 326.5L509 326.5M509.5 326.5L509.5 371M512.5 326.5L512.5 371M509 371.5L577.5 371.5M513.5 333.5H558.5V364.5H513.5ZM561.5 335.5H573.5V362.5H561.5ZM512.5 337.5L515.5 337.5L515.5 345.5L513.5 345.5L513.5 352.5L515.5 352.5L515.5 360.5L512.5 360.5M577.5 327L577.5 445M582.5 327L582.5 445M580.5 391L580.5 428M577.5 391.5L582.5 391.5M577.5 428.5L582.5 428.5M509 375.5L577.5 375.5M509.5 371L509.5 402M515.5 375.5L515.5 402M523.5 375.5L523.5 402M530.5 375.5L530.5 402M536.5 375.5L536.5 402M543.5 375.5L543.5 402M549.5 375.5L549.5 402M501.5 423L501.5 449M509.5 423L509.5 449M515.5 423L515.5 449M523.5 423L523.5 449M530.5 423L530.5 449M536.5 423L536.5 449M543.5 423L543.5 449M497.5 436.5L564.5 436.5M564.5 388.5L564.5 436.5M509 388.5L564.5 388.5M549.5 409.5L577.5 409.5M549.5 416.5L577.5 416.5M549.5 422.5L577.5 422.5M515 382L509.5 388.5L515 395M455 449.5L573 449.5M455 454.5L573 454.5M675.5 326.5L675.5 342.5M677.5 326.5L677.5 342.5"/>
<path class="w2" d="M501.5 402.5H549.5V422.5H501.5ZM460 450.5L487 450.5"/>
<rect class="wt" x="645" y="181.5" width="48" height="21" rx="14.9" ry="10.5"/>
<path class="wt" d="M655.5 181V175.5Q655.5 174 657 174H664Q665.5 174 665.5 175.5V181"/>
<rect fill="#fff" x="656" y="174" width="9" height="3"/>
<path class="wt" d="M655.5 203V208.5Q655.5 210 657 210H664Q665.5 210 665.5 208.5V203"/>
<rect fill="#fff" x="656" y="207" width="9" height="3"/>
<path class="wt" d="M672.5 181V175.5Q672.5 174 674 174H681Q682.5 174 682.5 175.5V181"/>
<rect fill="#fff" x="673" y="174" width="9" height="3"/>
<path class="wt" d="M672.5 203V208.5Q672.5 210 674 210H681Q682.5 210 682.5 208.5V203"/>
<rect fill="#fff" x="673" y="207" width="9" height="3"/>
<path class="wt" d="M646 187H640.5Q639 187 639 188.5V195.5Q639 197 640.5 197H646"/>
<rect fill="#fff" x="639" y="187.5" width="3" height="9"/>
<path class="wt" d="M692 187H697.5Q699 187 699 188.5V195.5Q699 197 697.5 197H692"/>
<rect fill="#fff" x="696" y="187.5" width="3" height="9"/>
<circle class="w" cx="645.5" cy="179.5" r="1.2"/>
<circle class="w" cx="645.5" cy="204.5" r="1.2"/>
<circle class="w" cx="692.5" cy="179.5" r="1.2"/>
<circle class="w" cx="692.5" cy="204.5" r="1.2"/>
<g class="wp"><ellipse cx="685.4" cy="243.2" rx="2.3" ry="1.4" transform="rotate(20 685.4 243.2)"/><ellipse cx="682.6" cy="245.5" rx="2.3" ry="1.4" transform="rotate(80 682.6 245.5)"/><ellipse cx="679.2" cy="244.3" rx="2.3" ry="1.4" transform="rotate(140 679.2 244.3)"/><ellipse cx="678.6" cy="240.8" rx="2.3" ry="1.4" transform="rotate(200 678.6 240.8)"/><ellipse cx="681.4" cy="238.5" rx="2.3" ry="1.4" transform="rotate(260 681.4 238.5)"/><ellipse cx="684.8" cy="239.7" rx="2.3" ry="1.4" transform="rotate(320 684.8 239.7)"/></g>
<path class="ws" d="M680.3 246.6L678 253"/>
<g class="wp"><ellipse cx="272.4" cy="373.2" rx="2.3" ry="1.4" transform="rotate(20 272.4 373.2)"/><ellipse cx="269.6" cy="375.5" rx="2.3" ry="1.4" transform="rotate(80 269.6 375.5)"/><ellipse cx="266.2" cy="374.3" rx="2.3" ry="1.4" transform="rotate(140 266.2 374.3)"/><ellipse cx="265.6" cy="370.8" rx="2.3" ry="1.4" transform="rotate(200 265.6 370.8)"/><ellipse cx="268.4" cy="368.5" rx="2.3" ry="1.4" transform="rotate(260 268.4 368.5)"/><ellipse cx="271.8" cy="369.7" rx="2.3" ry="1.4" transform="rotate(320 271.8 369.7)"/></g>
<path class="ws" d="M270.7 376.6L273 383"/>
<rect class="wt" x="367" y="383" width="21" height="46" rx="10.5" ry="14.3"/>
<path class="wt" d="M366.5 392.5H361Q359.5 392.5 359.5 394V401Q359.5 402.5 361 402.5H366.5"/>
<rect fill="#fff" x="359.5" y="393" width="3" height="9"/>
<path class="wt" d="M388.5 392.5H394Q395.5 392.5 395.5 394V401Q395.5 402.5 394 402.5H388.5"/>
<rect fill="#fff" x="392.5" y="393" width="3" height="9"/>
<path class="wt" d="M366.5 409.5H361Q359.5 409.5 359.5 411V418Q359.5 419.5 361 419.5H366.5"/>
<rect fill="#fff" x="359.5" y="410" width="3" height="9"/>
<path class="wt" d="M388.5 409.5H394Q395.5 409.5 395.5 411V418Q395.5 419.5 394 419.5H388.5"/>
<rect fill="#fff" x="392.5" y="410" width="3" height="9"/>
<path class="wt" d="M372.5 384V378.5Q372.5 377 374 377H381Q382.5 377 382.5 378.5V384"/>
<rect fill="#fff" x="373" y="377" width="9" height="3"/>
<path class="wt" d="M372.5 428V433.5Q372.5 435 374 435H381Q382.5 435 382.5 433.5V428"/>
<rect fill="#fff" x="373" y="432" width="9" height="3"/>
<circle class="w" cx="365" cy="383.5" r="1.2"/>
<circle class="w" cx="365" cy="428.5" r="1.2"/>
<circle class="w" cx="390" cy="383.5" r="1.2"/>
<circle class="w" cx="390" cy="428.5" r="1.2"/>
<circle class="w" cx="501.5" cy="436.5" r="3"/>
<path class="wc" d="M582.5 370.5C595 367 610 362.5 617 359.5C624 354 629 348 634.5 342.5C640 338.5 646 336.5 653 336C662 335.8 671 337.5 677.5 341"/>
<path class="wc" d="M582.5 373.0C595 369.5 610 365.0 617 362.0C624 356.5 629 350.5 634.5 345.0C640 341.0 646 339.0 653 338.5C662 338.3 671 340.0 677.5 343.5"/>
<rect x="466" y="48" width="10" height="10" fill="#fff"/>
<rect x="598" y="48" width="10" height="10" fill="#fff"/>
<rect x="712" y="48" width="10" height="10" fill="#fff"/>
<rect x="466" y="148" width="10" height="10" fill="#fff"/>
<rect x="712" y="148" width="10" height="10" fill="#fff"/>
<rect x="573" y="317" width="10" height="10" fill="#fff"/>
<rect x="712" y="317" width="10" height="10" fill="#fff"/>
<rect x="598" y="148" width="10" height="10" fill="#fff"/>
<rect x="234" y="233" width="10" height="10" fill="#fff"/>
<rect x="364" y="233" width="10" height="10" fill="#fff"/>
<rect x="445" y="234" width="10" height="10" fill="#fff"/>
<rect x="234" y="340" width="10" height="10" fill="#fff"/>
<rect x="364" y="341" width="10" height="10" fill="#fff"/>
<rect x="445" y="340" width="10" height="10" fill="#fff"/>
<rect x="234" y="445" width="10" height="10" fill="#fff"/>
<rect x="280" y="445" width="10" height="10" fill="#fff"/>
<rect x="364" y="445" width="10" height="10" fill="#fff"/>
<rect x="445" y="445" width="10" height="10" fill="#fff"/>
<rect x="573" y="445" width="10" height="10" fill="#fff"/>
<path class="d" d="M551.6 105.3A24.6 24.6 0 0 1 564.6 127M517.4 142A22.3 22.3 0 0 1 537 130.4M615 113.7A13.5 13.5 0 0 1 622 125.5M654.6 142A22.8 22.8 0 0 0 634.5 129.9M497 271A13.9 13.9 0 0 1 503.9 283M482 305.5A19.8 19.8 0 0 1 490.8 322M494 322L496 317L498.5 322M295 293A23.7 23.7 0 0 0 282.3 315.1M327 328A23.6 23.6 0 0 0 307 316.9M266 322.8A15.7 15.7 0 0 1 278.3 314.4M398.6 240.6A17.5 17.5 0 0 0 389.5 255.7M430 401.4A15.1 15.1 0 0 0 438.1 388M433.4 359.6A22.3 22.3 0 0 0 453.4 372.3M453 372L449 369L452 377M592 340A15.8 15.8 0 0 0 598.8 327"/>
<path class="dl" d="M540 127L551.6 105.3M537 152.7L517.4 142M608.5 125.5L615 113.7M634.5 152.7L654.6 142M490 283L497 271M471 322L482 305.5M306 314L295 293M307 340.5L327 328M280 330L266 322.8M407 256L398.6 240.6M423 388L430 401.4M453.5 350L433.4 359.6M583 327L592 340"/></g>
<g id="wingRD" transform="translate(1675 0) scale(-1 1)"><rect x="304.5" y="522.5" width="31" height="42" rx="3" fill="url(#bp)" stroke="#520808"/>
<path class="r" d="M294.5 461.5H314.5V479.5H294.5ZM296.5 463.5H312.5V477.5H296.5ZM296.5 463.5L312.5 477.5M515.5 455.5H528.5V459.5Q528.5 463.5 522 463.5Q515.5 463.5 515.5 459.5ZM520.5 459.5h3M522 458v3M526.5 476.5H530.5V489.5H526.5ZM515.5 477.5H521.5Q525.5 477.5 525.5 481.5V484.5Q525.5 488.5 521.5 488.5H515.5Q511.5 488.5 511.5 484.5V481.5Q511.5 477.5 515.5 477.5ZM516.5 479.5H520.5Q522.5 479.5 522.5 481.5V484.5Q522.5 486.5 520.5 486.5H516.5Q514.5 486.5 514.5 484.5V481.5Q514.5 479.5 516.5 479.5ZM516.5 513.5H531.5V533.5H516.5ZM516.5 520L516.5 528M518.5 534.5H531.5V563.5H518.5ZM519.5 537.5H530.5V561.5H519.5ZM520.5 538.5H529.5V560.5H520.5ZM521.5 559.5L528.5 539.5M521.5 549L528.5 549M471.5 563.5H518.5V577.5H471.5ZM472.5 564.5H487.5V576.5H472.5ZM473.5 565.5H486.5V575.5H473.5ZM474.5 574.5L485.5 566.5M474.5 570L485.5 570M488.5 564.5H502.5V576.5H488.5ZM491 570a4 4 0 1 0 8 0a4 4 0 1 0 -8 0M503.5 564.5H517.5V576.5H503.5ZM506 570a4 4 0 1 0 8 0a4 4 0 1 0 -8 0M303 521.5L303 565.5M304 521.5L304 565.5M287.5 522.5H301.5V564.5H287.5ZM289.5 524.5H299.5V541.5H289.5ZM289.5 545.5H299.5V562.5H289.5ZM291.5 509.5H294.5Q297.5 509.5 297.5 512.5V517.5Q297.5 520.5 294.5 520.5H291.5Q288.5 520.5 288.5 517.5V512.5Q288.5 509.5 291.5 509.5ZM291.5 564.5H294.5Q297.5 564.5 297.5 567.5V573.5Q297.5 576.5 294.5 576.5H291.5Q288.5 576.5 288.5 573.5V567.5Q288.5 564.5 291.5 564.5Z"/>
<path class="w" d="M280.5 455L280.5 572M285.5 455L285.5 572M531.5 455L531.5 572M535.5 455L535.5 572M290 577.5L424 577.5M290 582.5L424 582.5M299 580.5L337 580.5M299.5 577.5L299.5 582.5M337.5 577.5L337.5 582.5M374 580.5L410 580.5M374.5 577.5L374.5 582.5M410.5 577.5L410.5 582.5M466.5 577.5L526 577.5M466.5 582.5L526 582.5M488 580.5L514 580.5M488.5 577.5L488.5 582.5M514.5 577.5L514.5 582.5M418.5 582.5L418.5 596.5L481.5 596.5L481.5 582.5M421.5 582.5L421.5 593.5L478.5 593.5L478.5 582.5M450 559.5L471 559.5M450 563.5L471 563.5M466.5 563L466.5 582M470.5 559L470.5 582M450.5 559L450.5 563M428.5 559L428.5 572M432.5 559L432.5 572M428 559.5L433 559.5M457.5 512.5H471.5V559.5H457.5ZM286.5 454.5H292.5V479.5H286.5ZM329.5 454.5L329.5 463M331.5 454.5L331.5 463M285.5 479.5L330.5 479.5M285.5 482.5L330.5 482.5M329.5 479L329.5 483M286.5 482.5H327.5V496.5H286.5ZM286.5 482.5L307 496.5M307 482.5L286.5 496.5M307 482.5L327.5 496.5M327.5 482.5L307 496.5M307.5 482.5L307.5 496.5M352.5 480L352.5 577.5M355.5 480L355.5 577.5M352 480.5L356 480.5M385.5 457.5H418.5V466.5H385.5ZM390.5 460.5H413.5V463.5H390.5ZM498.5 454.5L498.5 459M501.5 454.5L501.5 459M498.5 473.5L498.5 512.5M501.5 473.5L501.5 512.5M501.5 496.5L531.5 496.5M501.5 498.5L531.5 498.5M498.5 510.5L531.5 510.5M498.5 512.5L531.5 512.5M518 534L518 563L471 563M356.5 492.5H374.5V525.5H356.5ZM374.5 494.5L358.5 494.5L358.5 523.5L374.5 523.5M361.5 494.5L361.5 523.5M363.5 494.5L363.5 523.5M358.5 508.5L374.5 508.5M361.5 527.5H371.5V538.5H361.5ZM356.5 539.5H374.5V558.5H356.5ZM374.5 541.5L358.5 541.5L358.5 556.5L374.5 556.5M361.5 541.5L361.5 556.5M363.5 541.5L363.5 556.5M361.5 563.5H372.5V574.5H361.5ZM378.5 560.5H423.5V575.5H378.5ZM380.5 560.5L380.5 573.5L421.5 573.5L421.5 560.5M380.5 570.5L421.5 570.5M380.5 568.5L421.5 568.5M394.5 573.5L394.5 560.5M407.5 573.5L407.5 560.5M389.5 520.5H413.5V545.5H389.5ZM436.5 512.5H453.5V545.5H436.5ZM436.5 514.5L451.5 514.5L451.5 543.5L436.5 543.5M448.5 514.5L448.5 543.5M446.5 514.5L446.5 543.5M451.5 528.5L436.5 528.5"/>
<g class="wp"><ellipse cx="388.4" cy="567.2" rx="2.3" ry="1.4" transform="rotate(20 388.4 567.2)"/><ellipse cx="385.6" cy="569.5" rx="2.3" ry="1.4" transform="rotate(80 385.6 569.5)"/><ellipse cx="382.2" cy="568.3" rx="2.3" ry="1.4" transform="rotate(140 382.2 568.3)"/><ellipse cx="381.6" cy="564.8" rx="2.3" ry="1.4" transform="rotate(200 381.6 564.8)"/><ellipse cx="384.4" cy="562.5" rx="2.3" ry="1.4" transform="rotate(260 384.4 562.5)"/><ellipse cx="387.8" cy="563.7" rx="2.3" ry="1.4" transform="rotate(320 387.8 563.7)"/></g>
<path class="ws" d="M386.3 561.4L388 555"/>
<rect x="280" y="572" width="10" height="11" fill="#fff"/>
<rect x="424" y="572" width="10" height="11" fill="#fff"/>
<rect x="526" y="572" width="10" height="11" fill="#fff"/>
<path class="d" d="M441.5 575.7L448 569L450 560M317.5 471A15.3 15.3 0 0 0 330.6 478.3M342 501.4A23.4 23.4 0 0 1 329.2 482.4M477 474A22.1 22.1 0 0 1 465.4 454.5M464 454.5L461 460L459 454.5M501.3 458.7L512.6 466.6L501.3 473.5"/>
<path class="dl" d="M433.7 560L441.5 575.7M330.5 463L317.5 471M352.5 480.5L342 501.4M487.5 454.5L477 474"/></g>
<g id="centre"><rect x="741.5" y="227.5" width="31" height="43" rx="3" fill="url(#bp)" stroke="#520808"/>
<path class="r" d="M750.5 89.5H770.5V107.5H750.5ZM752.5 91.5H768.5V105.5H752.5ZM768.5 91.5L752.5 105.5M911.5 89.5H924.5V94.5Q924.5 99.5 918 99.5Q911.5 99.5 911.5 94.5ZM916.5 94.5h3M918 93v3M949.5 118.5H953.5V130.5H949.5ZM937.5 119.5H944.5Q948.5 119.5 948.5 123.5V125.5Q948.5 129.5 944.5 129.5H937.5Q933.5 129.5 933.5 125.5V123.5Q933.5 119.5 937.5 119.5ZM938.5 121.5H943.5Q945.5 121.5 945.5 123.5V125.5Q945.5 127.5 943.5 127.5H938.5Q936.5 127.5 936.5 125.5V123.5Q936.5 121.5 938.5 121.5ZM938.5 181.5H953.5V203.5H938.5ZM900.5 250.5H911.5V275.5H900.5ZM901.5 251.5H910.5V274.5H901.5ZM902.5 252.5H909.5V273.5H902.5ZM903.5 272.5L908.5 253.5M903.5 262.5L908.5 262.5M911.5 273.5H940.5V286.5H911.5ZM912.5 274.5H925.5V286.5H912.5ZM914.5 280a4 4 0 1 0 8 0a4 4 0 1 0 -8 0M926.5 274.5H939.5V286.5H926.5ZM928.5 280a4 4 0 1 0 8 0a4 4 0 1 0 -8 0M941.5 256.5H953.5V272.5H941.5ZM942.5 257.5H952.5V271.5H942.5ZM944 264a3 3 0 1 0 6 0a3 3 0 1 0 -6 0M740 226.5L740 271.5M741 226.5L741 271.5M725.5 227.5H738.5V270.5H725.5ZM727.5 229.5H736.5V247.5H727.5ZM727.5 251.5H736.5V268.5H727.5ZM728.5 215.5H730.5Q733.5 215.5 733.5 218.5V223.5Q733.5 226.5 730.5 226.5H728.5Q725.5 226.5 725.5 223.5V218.5Q725.5 215.5 728.5 215.5ZM728.5 271.5H730.5Q733.5 271.5 733.5 274.5V279.5Q733.5 282.5 730.5 282.5H728.5Q725.5 282.5 725.5 279.5V274.5Q725.5 271.5 728.5 271.5Z"/>
<path class="w" d="M781 25.5L894 25.5M781 29.5L894 29.5M794 27.5L831 27.5M794.5 25.5L794.5 29.5M831.5 25.5L831.5 29.5M771.5 35L771.5 134M776.5 35L776.5 134M899.5 35L899.5 134M903.5 35L903.5 134M781 138.5L894 138.5M781 142.5L894 142.5M776.5 64.5L804 64.5M776.5 71.5L804 71.5M776.5 79.5L804 79.5M776.5 86.5L804 86.5M776.5 93.5L804 93.5M776.5 100.5L804 100.5M789.5 43.5L789.5 104M789.5 43.5L837.5 43.5M837.5 43.5L837.5 99.5M802.5 29.5L802.5 58M809.5 29.5L809.5 58M816.5 29.5L816.5 58M824 57.5L850 57.5M824 64.5L850 64.5M824 71.5L850 71.5M824 79.5L850 79.5M824 86.5L850 86.5M824 93.5L850 93.5M850.5 29.5L850.5 99.5M824 99.5L866 99.5M888 99.5L899 99.5M855.5 29.5L855.5 95M855 95.5L866 95.5M888 95.5L899 95.5M865.5 95L865.5 99.5M888.5 95L888.5 99.5M861.5 49.5H892.5V95.5H861.5ZM864.5 34.5H891.5V45.5H864.5ZM866 97.5L878 97.5M877 96.5L888 96.5M877.5 95.5L877.5 99.5M830.7 93L837.5 99L844 93M786 105.5L793 105.5M721.5 83.5L772 83.5M721.5 87.5L772 87.5M722.5 88.5H745.5V106.5H722.5ZM721.5 108.5L772 108.5M903.5 83.5L954 83.5M903.5 87.5L954 87.5M931.5 88.5H953.5V106.5H931.5ZM928.5 87.5L928.5 108.5M928 108.5L954 108.5M721.5 141.5L752 141.5M721.5 144.5L752 144.5M751.5 141L751.5 145M767 141.5L771 141.5M767 144.5L771 144.5M904 141.5L909 141.5M904 144.5L909 144.5M924 141.5L954 141.5M924 144.5L954 144.5M924.5 141L924.5 145M722.5 144.5H735.5V177.5H722.5ZM722.5 144.5L735.5 161M735.5 144.5L722.5 161M722.5 161L735.5 177.5M735.5 161L722.5 177.5M722.5 161.5L735.5 161.5M940.5 144.5H953.5V177.5H940.5ZM940.5 144.5L953.5 161M953.5 144.5L940.5 161M940.5 161L953.5 177.5M953.5 161L940.5 177.5M940.5 161.5L953.5 161.5M721.5 178.5L767.5 178.5M721.5 180.5L767.5 180.5M766.5 178L766.5 181M789.5 179L789.5 287M792.5 179L792.5 287M789 179.5L793 179.5M895 178.5L954 178.5M895 180.5L954 180.5M895.5 178L895.5 181M827.5 189.5H860.5V205.5H827.5ZM829.5 205.5L829.5 191.5L858.5 191.5L858.5 205.5M829.5 194.5L858.5 194.5M829.5 196.5L858.5 196.5M843.5 191.5L843.5 205.5M793.5 216.5H802.5V248.5H793.5ZM796.5 221.5H799.5V243.5H796.5ZM802.5 224.5L843.5 224.5M810.5 216.5L810.5 232.5M829.5 220.5H855.5V245.5H829.5ZM872.5 211.5H888.5V256.5H872.5ZM872.5 213.5L886.5 213.5L886.5 254.5L872.5 254.5M883.5 213.5L883.5 254.5M881.5 213.5L881.5 254.5M886.5 227.5L872.5 227.5M886.5 240.5L872.5 240.5M820.5 261.5H839.5V278.5H820.5ZM822.5 261.5L822.5 276.5L837.5 276.5L837.5 261.5M822.5 273.5L837.5 273.5M822.5 271.5L837.5 271.5M840.5 263.5H850.5V274.5H840.5ZM852.5 261.5H871.5V278.5H852.5ZM854.5 261.5L854.5 276.5L869.5 276.5L869.5 261.5M854.5 273.5L869.5 273.5M854.5 271.5L869.5 271.5M875.5 262.5H887.5V273.5H875.5ZM895.5 203.5H909.5V246.5H895.5ZM895.5 245.5L916 245.5M895.5 248.5L916 248.5M915.5 245L915.5 249M934 245.5L954 245.5M934 248.5L954 248.5M934.5 245L934.5 249M939.5 203.5H953.5V246.5H939.5ZM898.5 248L898.5 287M911.5 249.5L911.5 272.5L940.5 272.5L940.5 248M721.5 287.5L954 287.5M721.5 291.5L954 291.5M735 289.5L771 289.5M735.5 287.5L735.5 291.5M771.5 287.5L771.5 291.5M905 289.5L943 289.5M905.5 287.5L905.5 291.5M943.5 287.5L943.5 291.5M806 288.5L837 288.5M837 289.5L868 289.5M806.5 287.5L806.5 291.5M837.5 287.5L837.5 291.5M868.5 287.5L868.5 291.5M772.5 291.5L772.5 309.5M775.5 291.5L775.5 309.5M899.5 291.5L899.5 309.5M902.5 291.5L902.5 309.5M389 111.5L1284 111.5M1283.5 111.5L1283.5 43.5L1307 65.5L1283.5 65.5M0 243.5L50 243.5M0 248.5L50 248.5M55.5 254L55.5 350M60.5 254L60.5 350M55.5 361L55.5 455M60.5 361L60.5 455M14 459.5L50 459.5M14 463.5L50 463.5M0 459.5L4 459.5M0 463.5L4 463.5M9.5 465L9.5 582M13.5 465L13.5 582M0 494.5L9.5 494.5M0 497.5L9.5 497.5M0 525.5L9.5 525.5M0 528.5L9.5 528.5M0 555.5L9.5 555.5M0 558.5L9.5 558.5M0 587.5L4 587.5M0 591.5L4 591.5"/>
<path class="w2" d="M867 139.5L894 139.5M804.5 58.5H823.5V106.5H804.5Z"/>
<circle class="w" cx="789.5" cy="105.5" r="3"/>
<circle class="w" cx="810.5" cy="224.5" r="4"/>
<path fill="#fff" d="M810.5 224.5h4a4 4 0 0 0-4-4zM810.5 224.5h-4a4 4 0 0 0 4 4z"/>
<g class="wp"><ellipse cx="882.4" cy="250.2" rx="2.3" ry="1.4" transform="rotate(20 882.4 250.2)"/><ellipse cx="879.6" cy="252.5" rx="2.3" ry="1.4" transform="rotate(80 879.6 252.5)"/><ellipse cx="876.2" cy="251.3" rx="2.3" ry="1.4" transform="rotate(140 876.2 251.3)"/><ellipse cx="875.6" cy="247.8" rx="2.3" ry="1.4" transform="rotate(200 875.6 247.8)"/><ellipse cx="878.4" cy="245.5" rx="2.3" ry="1.4" transform="rotate(260 878.4 245.5)"/><ellipse cx="881.8" cy="246.7" rx="2.3" ry="1.4" transform="rotate(320 881.8 246.7)"/></g>
<path class="ws" d="M874 247.7L867 246"/>
<path class="wc" d="M772.5 307.5 C779 303 785 300.5 791 300.5 C806 300.5 820 320 837.5 320 C855 320 869 300.5 884 300.5 C890 300.5 896 303 902.5 307.5"/>
<path class="wc" d="M772.5 310.0 C779 305.5 785 303.0 791 303.0 C806 303.0 820 322.5 837.5 322.5 C855 322.5 869 303.0 884 303.0 C890 303.0 896 305.5 902.5 310.0"/>
<rect x="771" y="25" width="10" height="10" fill="#fff"/>
<rect x="894" y="25" width="10" height="10" fill="#fff"/>
<rect x="771" y="134" width="10" height="10" fill="#fff"/>
<rect x="894" y="134" width="10" height="10" fill="#fff"/>
<rect x="771" y="282" width="10" height="10" fill="#fff"/>
<rect x="894" y="282" width="10" height="10" fill="#fff"/>
<rect x="50" y="243" width="11" height="11" fill="#fff"/>
<rect x="50" y="350" width="11" height="11" fill="#fff"/>
<rect x="50" y="455" width="11" height="10" fill="#fff"/>
<rect x="4" y="455" width="11" height="10" fill="#fff"/>
<rect x="4" y="582" width="11" height="10" fill="#fff"/>
<path class="d" d="M759.5 129A15 15 0 0 0 752 142M916.5 129.6A14.5 14.5 0 0 1 923.5 142M778.4 199.3A22 22 0 0 1 767 180M885 159.5A21.5 21.5 0 0 1 872.5 140M867 141L869 146L871 141L873 145"/>
<path class="dl" d="M767 142L759.5 129M909 142L916.5 129.6M789 180L778.4 199.3M894 140L885 159.5"/></g>
<path class="w" d="M1065.5 274.5L1108 274.5M1073.5 266.5L1073.5 282.5M1302.5 438.5L1343.5 438.5M1310.5 430.5L1310.5 446.5M1235.5 532.5L1277.5 532.5M1243.5 524.5L1243.5 540.5"/>
<circle class="w" cx="1073.5" cy="274.5" r="4"/>
<path fill="#fff" d="M1073.5 274.5h4a4 4 0 0 0-4-4zM1073.5 274.5h-4a4 4 0 0 0 4 4z"/>
<circle class="w" cx="1310.5" cy="438.5" r="4"/>
<path fill="#fff" d="M1310.5 438.5h4a4 4 0 0 0-4-4zM1310.5 438.5h-4a4 4 0 0 0 4 4z"/>
<circle class="w" cx="1243.5" cy="532.5" r="4"/>
<path fill="#fff" d="M1243.5 532.5h4a4 4 0 0 0-4-4zM1243.5 532.5h-4a4 4 0 0 0 4 4z"/>
<g class="lv" font-size="8.9"><text x="818.5" y="151.7" textLength="24.2" lengthAdjust="spacingAndGlyphs">+31.50</text><text x="818.5" y="159.5" textLength="24.2" lengthAdjust="spacingAndGlyphs">+28.30</text><text x="818.5" y="167.7" textLength="24.2" lengthAdjust="spacingAndGlyphs">+25.10</text><text x="818.5" y="175.5" textLength="24.2" lengthAdjust="spacingAndGlyphs">+21.90</text><text x="818.5" y="183" textLength="24.2" lengthAdjust="spacingAndGlyphs">+18.70</text><text x="818.5" y="190.9" textLength="24.2" lengthAdjust="spacingAndGlyphs">+15.50</text><text x="818.5" y="198.7" textLength="24.2" lengthAdjust="spacingAndGlyphs">+12.30</text><text x="818.5" y="206" textLength="19.8" lengthAdjust="spacingAndGlyphs">+9.10</text><text x="818.5" y="213.5" textLength="19.8" lengthAdjust="spacingAndGlyphs">+5.90</text><text x="818.5" y="221.7" textLength="19.8" lengthAdjust="spacingAndGlyphs">+2.70</text></g>
<g class="lv" font-size="8.9"><text x="1081" y="225.4" textLength="24.2" lengthAdjust="spacingAndGlyphs">+21.90</text><text x="1081" y="233.7" textLength="24.2" lengthAdjust="spacingAndGlyphs">+18.70</text><text x="1081" y="241.7" textLength="24.2" lengthAdjust="spacingAndGlyphs">+15.50</text><text x="1081" y="249.2" textLength="24.2" lengthAdjust="spacingAndGlyphs">+12.30</text><text x="1081" y="256.9" textLength="19.8" lengthAdjust="spacingAndGlyphs">+9.10</text><text x="1081" y="264.9" textLength="19.8" lengthAdjust="spacingAndGlyphs">+5.90</text><text x="1081" y="272.9" textLength="19.8" lengthAdjust="spacingAndGlyphs">+2.70</text></g>
<g class="lv" font-size="8.9"><text x="1318.5" y="404.9" textLength="24.2" lengthAdjust="spacingAndGlyphs">+15.50</text><text x="1318.5" y="412.9" textLength="24.2" lengthAdjust="spacingAndGlyphs">+12.30</text><text x="1318.5" y="421.1" textLength="19.8" lengthAdjust="spacingAndGlyphs">+9.10</text><text x="1318.5" y="427.9" textLength="19.8" lengthAdjust="spacingAndGlyphs">+5.90</text><text x="1318.5" y="435.6" textLength="19.8" lengthAdjust="spacingAndGlyphs">+2.70</text></g>
<g class="lv" font-size="8.9"><text x="1251" y="514.9" textLength="19.8" lengthAdjust="spacingAndGlyphs">+9.10</text><text x="1251" y="522.4" textLength="19.8" lengthAdjust="spacingAndGlyphs">+5.90</text><text x="1251" y="529.9" textLength="19.8" lengthAdjust="spacingAndGlyphs">+2.70</text></g>
<g class="tt"><text x="558" y="669.5" textLength="217" lengthAdjust="spacingAndGlyphs">TYPICAL</text><text x="798.5" y="669.5" textLength="172" lengthAdjust="spacingAndGlyphs">FLOOR</text><text x="988.5" y="669.5" textLength="142" lengthAdjust="spacingAndGlyphs">PLAN</text><text x="557" y="716.5" textLength="88" lengthAdjust="spacingAndGlyphs">SC.</text><text x="716.5" y="716.5" textLength="137" lengthAdjust="spacingAndGlyphs">1:150</text></g>
<rect x="1502" y="0" width="30" height="729" fill="#fff"/>
<rect x="1586" y="0" width="1" height="729" fill="#fff"/>
</svg>
</body></html>
